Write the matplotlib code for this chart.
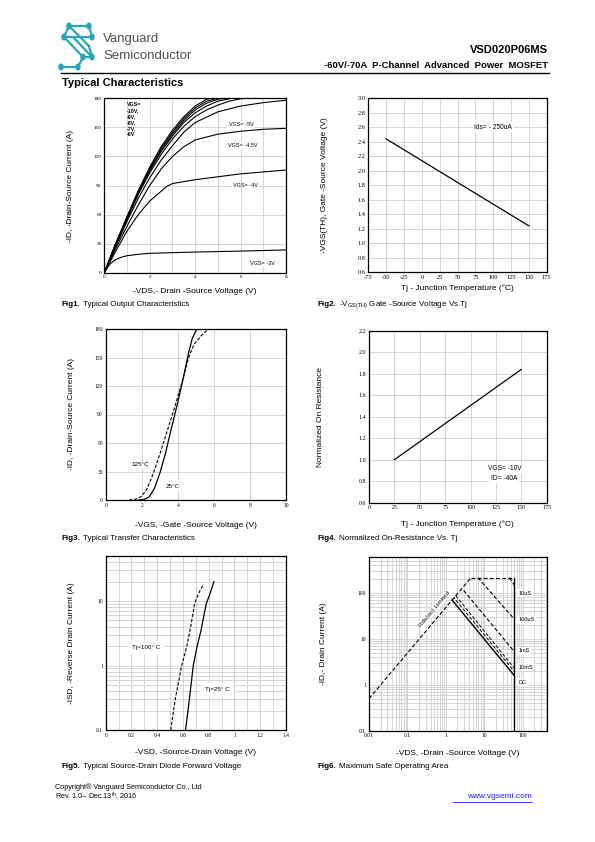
import numpy as np
import matplotlib
matplotlib.use('Agg')
import matplotlib.pyplot as plt
from matplotlib.lines import Line2D
from matplotlib.patches import Circle
from matplotlib.ticker import FormatStrFormatter, FuncFormatter

plt.rcParams['font.family'] = ['Liberation Sans', 'DejaVu Sans']
plt.rcParams['axes.unicode_minus'] = False
plt.rcParams['mathtext.fontset'] = 'custom'
plt.rcParams['mathtext.rm'] = 'Liberation Sans'
plt.rcParams['mathtext.bf'] = 'Liberation Sans:bold'

W, H = 595, 842

# ---------------- data ----------------
# Fig1 output characteristics: (VDS, ID) per VGS
fig1_vgs = ['-10V', '-9V', '-8V', '-7V', '-6V', '-5V', '-4.5V', '-4V', '-3V']
fig1_vds = {
    '-10V': [0, 0.5, 1, 1.5, 2, 2.5, 3, 3.5, 4, 4.5, 4.75],
    '-9V': [0, 0.5, 1, 1.5, 2, 2.5, 3, 3.5, 4, 4.5, 5.0],
    '-8V': [0, 0.5, 1, 1.5, 2, 2.5, 3, 3.5, 4, 4.5, 5.0, 5.3],
    '-7V': [0, 0.5, 1, 1.5, 2, 2.5, 3, 3.5, 4, 4.5, 5.0, 5.6],
    '-6V': [0, 0.5, 1, 1.5, 2, 2.5, 3, 3.5, 4, 4.5, 5.0, 5.5, 6.1],
    '-5V': [0, 0.5, 1, 1.5, 2, 2.5, 3, 3.5, 4, 5, 6, 7, 8],
    '-4.5V': [0, 0.5, 1, 1.5, 2, 2.5, 3, 3.5, 4, 5, 6, 7, 8],
    '-4V': [0, 0.5, 1, 1.5, 2, 2.5, 2.75, 3, 4, 5, 6, 7, 8],
    '-3V': [0, 0.15, 0.3, 0.5, 0.75, 1, 1.5, 2, 3, 4, 6, 8],
}
fig1_id = {
    '-10V': [0, 30, 58, 85, 109, 130, 147, 161, 172, 179, 180],
    '-9V': [0, 30, 57, 84, 107, 128, 145, 159, 170, 177, 180],
    '-8V': [0, 29, 57, 83, 106, 126, 143, 157, 168, 175, 179, 180],
    '-7V': [0, 29, 56, 82, 105, 125, 141, 155, 165, 172, 177, 180],
    '-6V': [0, 28, 55, 81, 103, 122, 138, 151, 161, 168, 173, 177, 180],
    '-5V': [0, 27, 53, 77, 98, 116, 131, 145, 155, 166, 172, 175.5, 178],
    '-4.5V': [0, 25, 48, 70, 90, 107, 120, 130, 137, 143, 146, 148, 149],
    '-4V': [0, 22, 43, 60, 74, 84, 89, 92, 96, 99, 102, 104, 106],
    '-3V': [0, 6, 10, 13.5, 16, 17.5, 19, 20, 20.7, 21.3, 22.3, 23.5],
}

# Fig2 threshold voltage vs Tj
fig2_tj = [-50, 150]
fig2_vth = [2.44, 1.24]

# Fig3 transfer characteristics
fig3_vgs_25 = [1.8, 2.1, 2.4, 2.7, 3.0, 3.3, 3.6, 4.0, 4.3, 4.6, 4.8, 5.0, 5.1]
fig3_id_25 = [0, 0.5, 3, 12, 28, 48, 72, 103, 128, 155, 170, 178, 180]
fig3_vgs_125 = [1.3, 1.7, 2.0, 2.3, 2.6, 3.0, 3.4, 3.8, 4.2, 4.6, 4.9, 5.3, 5.7]
fig3_id_125 = [0, 1, 4, 12, 26, 48, 72, 96, 122, 150, 164, 173, 180]

# Fig4 normalized Rds(on) vs Tj
fig4_tj = [25, 150]
fig4_rn = [1.0, 1.84]

# Fig5 body diode forward voltage
fig5_vsd_25 = [0.62, 0.65, 0.68, 0.71, 0.74, 0.78, 0.81, 0.84]
fig5_isd_25 = [0.1, 0.3, 1, 2, 3.5, 9, 13, 20]
fig5_vsd_100 = [0.505, 0.54, 0.59, 0.63, 0.66, 0.69, 0.72, 0.758]
fig5_isd_100 = [0.1, 0.3, 1, 2, 4, 9, 13, 18]

# Fig6 SOA
soa_rds_v = [0.01, 4.5]
soa_rds_i = [0.5, 216]
soa_top_v = [4.5, 57]
soa_top_i = [216, 216]
soa_10us_v = [45, 60]
soa_10us_i = [216, 150]
soa_100us_v = [6.8, 60]
soa_100us_i = [216, 27]
soa_1ms_v = [2.9, 60]
soa_1ms_i = [114, 5.3]
soa_10ms_v = [1.8, 60]
soa_10ms_i = [88, 2.3]
soa_extra_v = [1.62, 60]
soa_extra_i = [79, 1.95]
soa_dc_v = [1.45, 60]
soa_dc_i = [70, 1.6]
soa_vmax = 60
soa_labels = ['10uS', '100uS', '1mS', '10mS', 'DC']
soa_label_i = [100, 26, 5.5, 2.4, 1.13]

fig = plt.figure(figsize=(W / 100, H / 100), dpi=100)


def px_axes(l, t, r, b):
    return fig.add_axes([l / W, 1 - b / H, (r - l) / W, (b - t) / H])


def ftext(x, y, s, **kw):
    fig.text(x / W, 1 - y / H, s, **kw)


def caption(x, y, num, s):
    ftext(x, y, 'Fig%d.' % num, fontsize=5.8, fontweight='bold', va='center')
    ftext(x + 21, y, s, fontsize=5.8, va='center')


def style(ax, fs=4.2):
    for sp in ax.spines.values():
        sp.set_linewidth(0.9)
        sp.set_color('black')
    ax.tick_params(which='both', length=0, labelsize=fs, pad=2)
    for lab in ax.get_xticklabels() + ax.get_yticklabels():
        lab.set_family('Liberation Serif')
    ax.set_axisbelow(True)


gkw = dict(color='#cfcfcf', linewidth=0.6)
white = dict(facecolor='white', edgecolor='none', pad=1.0)

# ---------------- header ----------------
teal = '#2ba5b5'
logo_pts = [[(89, 26), (69, 26), (64, 37), (83, 57), (78, 67), (61, 67)],
            [(69, 26), (89, 46)], [(89, 26), (92, 37), (73, 37), (92, 57), (83, 57)],
            [(64, 37), (73, 37)], [(89, 46), (92, 57)]]
for seg in logo_pts:
    xs = [p[0] / W for p in seg]
    ys = [1 - p[1] / H for p in seg]
    fig.add_artist(Line2D(xs, ys, color=teal, linewidth=1.6))
for (cx, cy) in [(69, 26), (89, 26), (64, 37), (92, 37), (61, 67), (83, 57), (92, 57), (78, 67)]:
    fig.add_artist(Circle((cx / W, 1 - cy / H), 2.0 / W, color=teal, transform=fig.transFigure))
ftext(103, 39, 'Vanguard', fontsize=9.5, color='#505050', va='center')
ftext(103, 56, 'Semiconductor', fontsize=9.5, color='#505050', va='center')
ftext(548, 50, 'VSD020P06MS', fontsize=8, fontweight='bold', ha='right', va='center')
ftext(548, 65.5, '-60V/-70A  P-Channel  Advanced  Power  MOSFET', fontsize=6.8,
      fontweight='bold', ha='right', va='center')
fig.add_artist(Line2D([61 / W, 549 / W], [1 - 73 / H, 1 - 73 / H], color='black', linewidth=1.0))
ftext(62, 83, 'Typical Characteristics', fontsize=8, fontweight='bold', va='center')

# ---------------- Fig1 ----------------
ax1 = px_axes(104.3, 98.3, 286, 272.7)
for v in fig1_vgs:
    ax1.plot(fig1_vds[v], fig1_id[v], color='black', linewidth=0.8)
ax1.set_xlim(0, 8)
ax1.set_ylim(0, 180)
ax1.set_xticks([0, 2, 4, 6, 8])
ax1.set_xticks(np.arange(0, 9, 1), minor=True)
ax1.set_yticks(np.arange(0, 181, 30))
ax1.grid(True, which='both', **gkw)
style(ax1, 3.8)
ax1.text(1.0, 176, 'VGS=\n-10V,\n-9V,\n-8V,\n-7V,\n-6V', fontsize=3.8, fontweight='bold',
         va='top', linespacing=1.25)
ax1.text(6.02, 153, 'VGS= -5V', fontsize=4, ha='center', va='center', bbox=white)
ax1.text(6.08, 131, 'VGS= -4.5V', fontsize=4, ha='center', va='center', bbox=white)
ax1.text(6.22, 90, 'VGS= -4V', fontsize=4, ha='center', va='center', bbox=white)
ax1.text(6.95, 10, 'VGS= -3V', fontsize=4, ha='center', va='center', bbox=white)
ax1.set_xlabel('-VDS,- Drain -Source Voltage (V)', fontsize=6, labelpad=6)
ax1.set_ylabel('-ID, -Drain-Source Current (A)', fontsize=6, labelpad=14)
caption(62, 305, 1, 'Typical Output Characteristics')

# ---------------- Fig2 ----------------
ax2 = px_axes(368.3, 98.3, 546.7, 272.3)
ax2.plot(fig2_tj, fig2_vth, color='black', linewidth=0.9)
ax2.set_xlim(-75, 175)
ax2.set_ylim(0.6, 3.0)
ax2.set_xticks(np.arange(-75, 176, 25))
ax2.set_yticks(np.arange(0.6, 3.01, 0.2))
ax2.yaxis.set_major_formatter(FormatStrFormatter('%.1f'))
ax2.grid(True, **gkw)
style(ax2, 4.6)
ax2.text(100, 2.6, 'Ids= - 250uA', fontsize=4.8, ha='center', va='center', bbox=white)
ax2.set_xlabel('Tj - Junction Temperature (°C)', fontsize=6, labelpad=3)
ax2.set_ylabel('-VGS(TH), Gate -Source Voltage (V)', fontsize=6, labelpad=21)
caption(318, 305, 2, r'-V$_{\rm GS(TH)}$ Gate -Source Voltage Vs.Tj')

# ---------------- Fig3 ----------------
ax3 = px_axes(105.7, 329, 286, 500)
ax3.plot(fig3_vgs_25, fig3_id_25, color='black', linewidth=0.9)
ax3.plot(fig3_vgs_125, fig3_id_125, color='black', linewidth=0.8, linestyle=(0, (3, 1.5)))
ax3.set_xlim(0, 10)
ax3.set_ylim(0, 180)
ax3.set_xticks(np.arange(0, 11, 2))
ax3.set_yticks(np.arange(0, 181, 30))
ax3.grid(True, **gkw)
style(ax3, 4.0)
ax3.text(1.9, 37.5, '125°C', fontsize=4.5, ha='center', va='center', bbox=white)
ax3.text(3.7, 14.5, '25°C', fontsize=4.5, ha='center', va='center', bbox=white)
ax3.set_xlabel('-VGS, -Gate -Source Voltage (V)', fontsize=6, labelpad=10)
ax3.set_ylabel('-ID, -Drain-Source Current (A)', fontsize=6, labelpad=14)
caption(62, 539, 3, 'Typical Transfer Characteristics')

# ---------------- Fig4 ----------------
ax4 = px_axes(369, 330.7, 546.7, 502.7)
ax4.plot(fig4_tj, fig4_rn, color='black', linewidth=0.9)
ax4.set_xlim(0, 175)
ax4.set_ylim(0.6, 2.2)
ax4.set_xticks(np.arange(0, 176, 25))
ax4.set_yticks(np.arange(0.6, 2.21, 0.2))
ax4.yaxis.set_major_formatter(FormatStrFormatter('%.1f'))
ax4.grid(True, **gkw)
style(ax4, 4.3)
ax4.text(134, 0.915, 'VGS= -10V', fontsize=4.8, ha='center', va='center', bbox=white)
ax4.text(133, 0.825, 'ID= -40A', fontsize=4.8, ha='center', va='center', bbox=white)
ax4.set_xlabel('Tj - Junction Temperature (°C)', fontsize=6, labelpad=7)
ax4.set_ylabel('Normalized On Resistance', fontsize=6, labelpad=25)
caption(318, 539, 4, 'Normalized On-Resistance Vs. Tj')

# ---------------- Fig5 ----------------
ax5 = px_axes(105.7, 556, 286, 730)
ax5.plot(fig5_vsd_25, fig5_isd_25, color='black', linewidth=0.9)
ax5.plot(fig5_vsd_100, fig5_isd_100, color='black', linewidth=0.8, linestyle=(0, (3, 1.5)))
ax5.set_yscale('log')
ax5.set_xlim(0, 1.4)
ax5.set_ylim(0.1, 50)
ax5.set_xticks(np.arange(0, 1.41, 0.2))
ax5.set_xticks(np.arange(0, 1.41, 0.1), minor=True)
ax5.set_yticks([0.1, 1, 10])
ax5.set_yticklabels(['0.1', '1', '10'])
ax5.xaxis.set_major_formatter(FuncFormatter(lambda v, p: f'{v:g}'))
ax5.grid(True, which='both', **gkw)
ax5.tick_params(axis='y', which='minor', labelleft=False)
style(ax5, 4.0)
ax5.text(0.31, 1.9, 'Tj=100° C', fontsize=4.5, ha='center', va='center',
         bbox=dict(facecolor='white', edgecolor='none', pad=3))
ax5.text(0.87, 0.42, 'Tj=25° C', fontsize=4.5, ha='center', va='center',
         bbox=dict(facecolor='white', edgecolor='none', pad=3))
ax5.set_xlabel('-VSD, -Source-Drain Voltage (V)', fontsize=6, labelpad=8)
ax5.set_ylabel('-ISD, -Reverse Drain Current (A)', fontsize=6, labelpad=15)
caption(62, 766, 5, 'Typical Source-Drain Diode Forward Voltage')

# ---------------- Fig6 ----------------
ax6 = px_axes(369, 557.3, 546.7, 730.7)
dash = (0, (3.5, 2))
ax6.plot(soa_rds_v, soa_rds_i, color='black', linewidth=0.8, linestyle=dash)
ax6.plot(soa_top_v, soa_top_i, color='black', linewidth=0.8, linestyle=dash)
ax6.plot(soa_10us_v, soa_10us_i, color='black', linewidth=0.8, linestyle=dash)
ax6.plot(soa_100us_v, soa_100us_i, color='black', linewidth=0.8, linestyle=dash)
ax6.plot(soa_1ms_v, soa_1ms_i, color='black', linewidth=0.8, linestyle=dash)
ax6.plot(soa_10ms_v, soa_10ms_i, color='black', linewidth=0.7, linestyle=dash)
ax6.plot(soa_extra_v, soa_extra_i, color='black', linewidth=0.7, linestyle=(2, (3.5, 2)))
ax6.plot(soa_dc_v, soa_dc_i, color='black', linewidth=1.0)
ax6.plot([soa_vmax, soa_vmax], [0.1, 216], color='black', linewidth=1.0)
ax6.set_xscale('log')
ax6.set_yscale('log')
ax6.set_xlim(0.01, 420)
ax6.set_ylim(0.1, 600)
ax6.set_xticks([0.01, 0.1, 1, 10, 100])
ax6.set_xticklabels(['0.01', '0.1', '1', '10', '100'])
ax6.set_yticks([0.1, 1, 10, 100])
ax6.set_yticklabels(['0.1', '1', '10', '100'])
ax6.tick_params(which='minor', labelbottom=False, labelleft=False)
ax6.grid(True, which='both', **gkw)
style(ax6, 4.0)
for lab, yi in zip(soa_labels, soa_label_i):
    ax6.text(78, yi, lab, fontsize=4, ha='left', va='center', bbox=white)
ax6.text(0.5, 45, 'Rds(on) Limited', fontsize=4.6, rotation=50, ha='center', va='center',
         bbox=dict(facecolor='white', edgecolor='none', pad=0.5))
ax6.set_xlabel('-VDS, -Drain -Source Voltage (V)', fontsize=6, labelpad=8)
ax6.set_ylabel('-ID,- Drain Current (A)', fontsize=6, labelpad=22)
caption(318, 766, 6, 'Maximum Safe Operating Area')

# ---------------- footer ----------------
ftext(55, 787, 'Copyright® Vanguard Semiconductor Co., Ltd', fontsize=5.2, va='center')
ftext(55, 797, 'Rev. 1.0– Dec.13$^{\\rm th}$, 2016', fontsize=5.2, va='center')
ftext(532, 797, 'www.vgsemi.com', fontsize=6, color='#1a1aff', ha='right', va='center')
fig.add_artist(Line2D([453 / W, 532 / W], [1 - 801.5 / H, 1 - 801.5 / H], color='#1a1aff', linewidth=0.6))

fig.savefig('out.png', dpi=100)
